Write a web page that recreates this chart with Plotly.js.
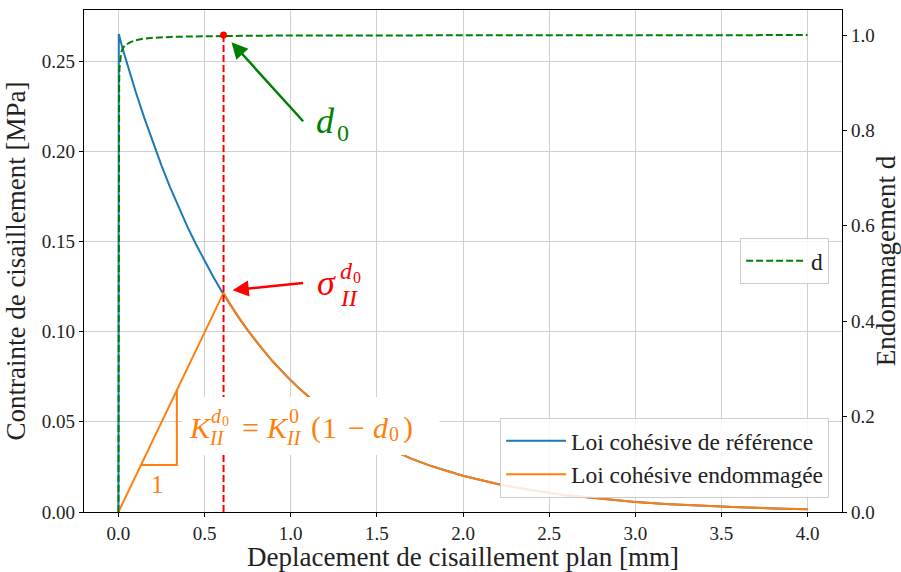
<!DOCTYPE html>
<html><head><meta charset="utf-8">
<script src="https://cdn.plot.ly/plotly-3.0.1.min.js"></script>
<style>body{margin:0;padding:0;background:#fff}#c{width:901px;height:572px}</style>
</head><body><div id="c"></div>
<script>
// Reference cohesive law (shear stress, MPa) vs shear displacement (mm)
const refX = [0, 0.002, 0.025, 0.05, 0.075, 0.1, 0.15, 0.2, 0.25, 0.3, 0.35, 0.4, 0.45, 0.5, 0.55, 0.6, 0.65, 0.7, 0.75, 0.8, 0.85, 0.9, 0.95, 1.0, 1.05, 1.1, 1.15, 1.2, 1.3, 1.4, 1.5, 1.6, 1.7, 1.8, 1.9, 2.0, 2.2, 2.4, 2.6, 2.8, 3.0, 3.2, 3.4, 3.6, 3.8, 4.0];
const refY = [0, 0.265, 0.2566, 0.2485, 0.2406, 0.2330, 0.2185, 0.2048, 0.1920, 0.1800, 0.1688, 0.1582, 0.1484, 0.1391, 0.1304, 0.1223, 0.1147, 0.1075, 0.1008, 0.0945, 0.0886, 0.0830, 0.0778, 0.0730, 0.0684, 0.0642, 0.0602, 0.0564, 0.0496, 0.0436, 0.0383, 0.0337, 0.0296, 0.0260, 0.0229, 0.0201, 0.0155, 0.0120, 0.0093, 0.0072, 0.0055, 0.0043, 0.0033, 0.0026, 0.0020, 0.0015];
// Damaged cohesive law
const dmgX = [0, 0.61, 0.65, 0.7, 0.75, 0.8, 0.85, 0.9, 0.95, 1.0, 1.05, 1.1, 1.15, 1.2, 1.3, 1.4, 1.5, 1.6, 1.7, 1.8, 1.9, 2.0, 2.2, 2.4, 2.6, 2.8, 3.0, 3.2, 3.4, 3.6, 3.8, 4.0];
const dmgY = [0, 0.1215, 0.1147, 0.1075, 0.1008, 0.0945, 0.0886, 0.0830, 0.0778, 0.0730, 0.0684, 0.0642, 0.0602, 0.0564, 0.0496, 0.0436, 0.0383, 0.0337, 0.0296, 0.0260, 0.0229, 0.0201, 0.0155, 0.0120, 0.0093, 0.0072, 0.0055, 0.0043, 0.0033, 0.0026, 0.0020, 0.0015];
// Damage variable d (right axis)
const dX = [0, 0.001, 0.002, 0.004, 0.006, 0.01, 0.015, 0.02, 0.03, 0.046, 0.07, 0.1, 0.14, 0.2, 0.3, 0.45, 0.6, 0.8, 1.0, 1.5, 2.0, 3.0, 4.0];
const dY = [0, 0.6, 0.8, 0.9, 0.93, 0.95, 0.962, 0.968, 0.975, 0.98, 0.985, 0.989, 0.992, 0.994, 0.996, 0.997, 0.998, 0.9985, 0.999, 0.9993, 0.9995, 0.9997, 0.9998];
// d0 marker and vertical line
const d0X = [0.61, 0.61];
const d0Y = [0, 1.0];
// slope triangle
const triX = [0.13, 0.339, 0.339];
const triY = [0.026, 0.026, 0.0678];

const F = "'Liberation Serif', 'DejaVu Serif', serif";
const blue = '#1f77b4', orange = '#ff7f0e', green = 'green', red = 'red';

const traces = [
  {x: refX, y: refY, type: 'scatter', mode: 'lines', name: 'Loi cohésive de référence', line: {color: blue, width: 2}, legend: 'legend'},
  {x: dmgX, y: dmgY, type: 'scatter', mode: 'lines', name: 'Loi cohésive endommagée', line: {color: orange, width: 2}, legend: 'legend'},
  {x: triX, y: triY, type: 'scatter', mode: 'lines', showlegend: false, line: {color: orange, width: 2}},
  {x: dX, y: dY, type: 'scatter', mode: 'lines', name: 'd', yaxis: 'y2', line: {color: green, width: 2, dash: '7px,3px'}, legend: 'legend2'},
  {x: d0X, y: d0Y, type: 'scatter', mode: 'lines', yaxis: 'y2', showlegend: false, line: {color: red, width: 2, dash: '7px,3px'}},
  {x: [d0X[1]], y: [d0Y[1]], type: 'scatter', mode: 'markers', yaxis: 'y2', showlegend: false, marker: {color: red, size: 7}}
];

const axBase = {
  showline: true, linecolor: 'black', linewidth: 1.2, mirror: false,
  ticks: 'outside', ticklen: 4, tickcolor: 'black', tickwidth: 1,
  tickfont: {family: F, size: 19, color: '#222'}, zeroline: false
};

// helpers for placing label pieces by pixel (converted to data coords)
const px2x = p => (p - 119) / 172.25;
const py2y = p => (512 - p) / 1804;
function piece(text, lx, cy, size, color) {
  return {x: px2x(lx), y: py2y(cy), xref: 'x', yref: 'y', xanchor: 'left', yanchor: 'middle', text: text,
    showarrow: false, font: {family: F, size: size, color: color}};
}

const layout = {
  width: 901, height: 572,
  margin: {l: 84, r: 59, t: 10, b: 60},
  paper_bgcolor: 'white', plot_bgcolor: 'white',
  font: {family: F},
  xaxis: Object.assign({}, axBase, {
    range: [-0.2, 4.2], tickvals: [0, 0.5, 1, 1.5, 2, 2.5, 3, 3.5, 4], ticktext: ['0.0','0.5','1.0','1.5','2.0','2.5','3.0','3.5','4.0'],
    showgrid: true, gridcolor: '#d0d0d0', gridwidth: 1, mirror: true,
    title: {text: 'Deplacement de cisaillement plan [mm]', font: {family: F, size: 27, color: '#222'}, standoff: 2}
  }),
  yaxis: Object.assign({}, axBase, {
    range: [0, 0.2783], tickvals: [0, 0.05, 0.1, 0.15, 0.2, 0.25], ticktext: ['0.00','0.05','0.10','0.15','0.20','0.25'],
    showgrid: true, gridcolor: '#d0d0d0', gridwidth: 1,
    title: {text: 'Contrainte de cisaillement [MPa]', font: {family: F, size: 27, color: '#222'}, standoff: 8}
  }),
  yaxis2: Object.assign({}, axBase, {
    overlaying: 'y', side: 'right', range: [0, 1.0524],
    tickvals: [0, 0.2, 0.4, 0.6, 0.8, 1.0], ticktext: ['0.0','0.2','0.4','0.6','0.8','1.0'],
    showgrid: false,
    title: {text: 'Endommagement d', font: {family: F, size: 27, color: '#222'}, standoff: 6}
  }),
  legend: {x: 0.983, y: 0.028, xanchor: 'right', yanchor: 'bottom', bgcolor: 'rgba(255,255,255,0.85)', bordercolor: '#cccccc', borderwidth: 1,
    font: {family: F, size: 23.5, color: '#222'}, tracegroupgap: 0, itemwidth: 60},
  legend2: {x: 0.983, y: 0.5, xanchor: 'right', yanchor: 'middle', bgcolor: 'rgba(255,255,255,0.85)', bordercolor: '#cccccc', borderwidth: 1,
    font: {family: F, size: 23.5, color: '#222'}, itemwidth: 60},
  shapes: [
    {type: 'rect', xref: 'x', yref: 'y', x0: px2x(183), x1: px2x(440), y0: py2y(455), y1: py2y(397), fillcolor: 'white', line: {width: 0}, layer: 'above'}
  ],
  annotations: [
    // green arrow to d0 point
    {x: 0.656, y: 0.985, xref: 'x', yref: 'y2', ax: 1.08, ay: 0.816, axref: 'x', ayref: 'y2', text: '', showarrow: true,
      arrowhead: 2, arrowsize: 1.3, arrowwidth: 2.5, arrowcolor: green},
    piece('<i>d</i>', 315, 121, 36, green),
    piece('0', 336, 133, 24, green),
    // red arrow to sigma point
    {x: 0.662, y: 0.123, xref: 'x', yref: 'y', ax: 1.08, ay: 0.127, axref: 'x', ayref: 'y', text: '', showarrow: true,
      arrowhead: 2, arrowsize: 1.3, arrowwidth: 2.5, arrowcolor: red},
    piece('<i>σ</i>', 316, 283, 36, red),
    piece('<i>d</i>', 339, 271, 24, red),
    piece('0', 352, 277, 16, red),
    piece('<i>II</i>', 339, 298, 24, red),
    // stiffness label K_II^{d0} = K_II^0 (1 - d0)
    piece('<i>K</i>', 188, 427, 30, orange),
    piece('<i>d</i>', 210, 416, 20, orange),
    piece('0', 221, 421, 14, orange),
    piece('<i>II</i>', 208, 438, 20, orange),
    piece('=', 241, 427, 30, orange),
    piece('<i>K</i>', 265, 427, 30, orange),
    piece('0', 288, 416, 20, orange),
    piece('<i>II</i>', 285, 438, 20, orange),
    piece('(', 310, 427, 30, orange),
    piece('1', 321, 427, 30, orange),
    piece('−', 347, 427, 30, orange),
    piece('<i>d</i>', 372, 427, 30, orange),
    piece('0', 388, 434, 20, orange),
    piece(')', 402, 427, 30, orange),
    {x: 0.226, y: 0.015, xref: 'x', yref: 'y', text: '1', showarrow: false, font: {family: F, size: 25, color: orange}}
  ]
};

Plotly.newPlot('c', traces, layout, {displayModeBar: false, staticPlot: true});
</script></body></html>
